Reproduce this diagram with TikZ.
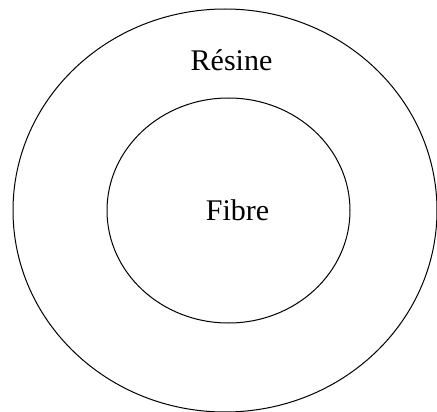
\documentclass[tikz,border=0pt]{standalone}
\usepackage{fontspec}
\setmainfont{Liberation Serif}
\usetikzlibrary{shapes.geometric}

\begin{document}
\begin{tikzpicture}[x=1pt,y=-1pt,line width=1pt]
 \useasboundingbox (0,0) rectangle (437,412);
 \draw (225,210.5) ellipse [x radius=212,y radius=201.5];
 \draw (228.5,210.5) ellipse [x radius=121.5,y radius=112.5];
 \node[anchor=base,font=\fontsize{30}{36}\selectfont,inner sep=0pt] (resine) at (231.5,71) {Résine};
 \node[anchor=base,font=\fontsize{30}{36}\selectfont,inner sep=0pt] (fibre) at (237.5,220) {Fibre};
\end{tikzpicture}
\end{document}
